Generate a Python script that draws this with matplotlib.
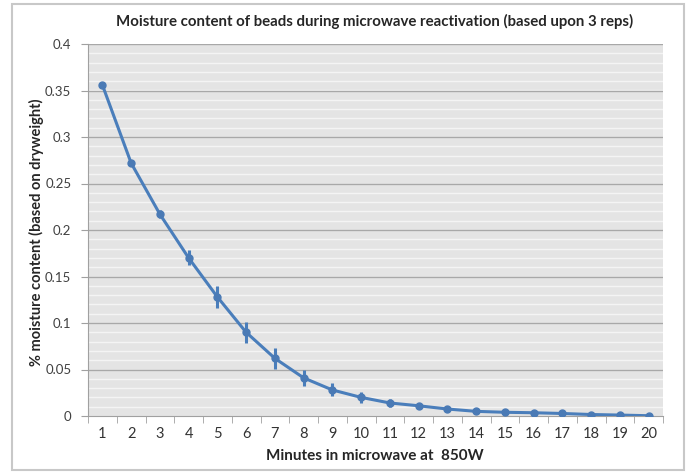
import matplotlib
matplotlib.use("Agg")
import matplotlib.pyplot as plt
from matplotlib.patches import Rectangle
import numpy as np

minutes = list(range(1, 21))
moisture = [0.356, 0.272, 0.217, 0.170, 0.128, 0.090, 0.062, 0.041, 0.028, 0.020,
            0.014, 0.011, 0.0075, 0.005, 0.004, 0.0035, 0.0027, 0.0016, 0.001, 0.0003]
errors = [0.002, 0.003, 0.004, 0.008, 0.012, 0.011, 0.011, 0.009, 0.007, 0.006,
          0.004, 0.003, 0.002, 0.001, 0.001, 0.001, 0.001, 0.001, 0.001, 0.001]
yticks = [0, 0.05, 0.1, 0.15, 0.2, 0.25, 0.3, 0.35, 0.4]
ytick_labels = ["0", "0.05", "0.1", "0.15", "0.2", "0.25", "0.3", "0.35", "0.4"]

plt.rcParams['font.family'] = ['Lato', 'DejaVu Sans']

fig = plt.figure(figsize=(6.88, 4.72), dpi=100)
fig.patch.set_facecolor('white')
# chart frame
fig.patches.append(Rectangle((12/688, 2/472), (684-12)/688, (469-3)/472,
                             transform=fig.transFigure, fill=False,
                             edgecolor='#c8c8c8', linewidth=1.5))

ax = fig.add_axes([88/688, 1-416/472, (663-88)/688, (416-44)/472])
ax.set_facecolor('#e4e4e4')
ax.set_xlim(0.5, 20.5)
ax.set_ylim(0, 0.4)

# minor grid
for v in np.arange(0.01, 0.4, 0.01):
    ax.axhline(v, color='#f4f4f4', linewidth=1.0, zorder=0)
for v in yticks[1:]:
    ax.axhline(v, color='#a8a8a8', linewidth=1.0, zorder=1)

ax.errorbar(minutes, moisture, yerr=errors, color='#4a7ebb', linewidth=2.2,
            marker='o', markersize=5, markerfacecolor='#4a7ab5',
            markeredgecolor='#4a7ab5', elinewidth=2.2, capsize=0, zorder=3)

ax.set_yticks(yticks)
ax.set_yticklabels(ytick_labels)
ax.set_xticks(minutes)
ax.set_xticklabels([str(m) for m in minutes])
ax.set_xticks(np.arange(0.5, 21, 1), minor=True)
ax.tick_params(axis='x', which='major', length=0, pad=8, labelsize=10.5, colors='#333333')
ax.tick_params(axis='x', which='minor', length=5, color='#a0a0a0', direction='out')
ax.tick_params(axis='y', which='major', length=5, color='#a0a0a0', direction='out',
               labelsize=9.5, colors='#404040', pad=7)

for s in ['top', 'right']:
    ax.spines[s].set_visible(False)
ax.spines['left'].set_color('#a0a0a0')
ax.spines['bottom'].set_color('#a0a0a0')

fig.text(375/688, 1-21/472, 'Moisture content of beads during microwave reactivation (based upon 3 reps)',
         ha='center', va='center', fontsize=10.8, fontweight='bold', color='#262626')
fig.text(375/688, 1-456/472, 'Minutes in microwave at  850W',
         ha='center', va='center', fontsize=11, fontweight='bold', color='#262626')
fig.text(36/688, 1-232/472, '% moisture content (based on dryweight)', rotation=90,
         ha='center', va='center', fontsize=10.5, fontweight='bold', color='#262626')

fig.savefig('out.png', dpi=100)
